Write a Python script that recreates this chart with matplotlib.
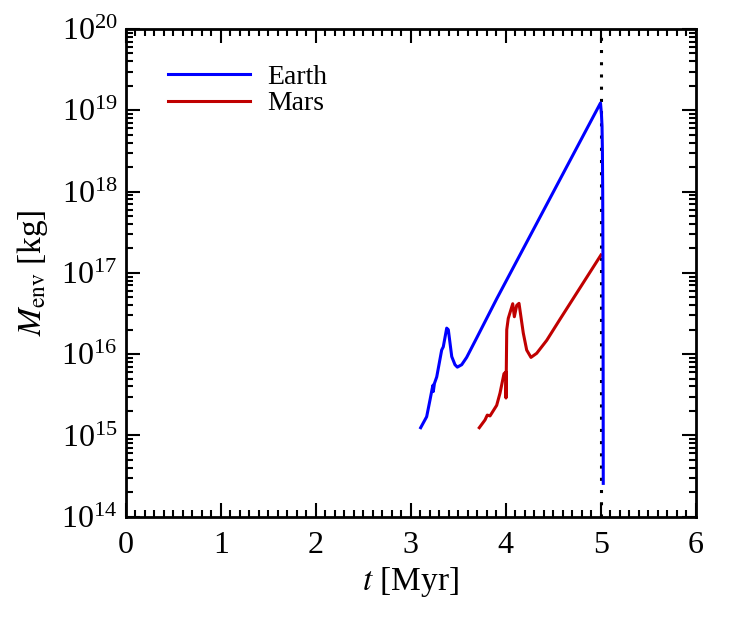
import matplotlib
matplotlib.use("Agg")
import matplotlib.pyplot as plt
import numpy as np
from matplotlib.ticker import MultipleLocator, LogLocator, NullFormatter

plt.rcParams['font.family'] = ['Liberation Serif', 'DejaVu Serif']
plt.rcParams['mathtext.fontset'] = 'stix'
plt.rcParams['mathtext.default'] = 'regular'

# Earth envelope mass: time [Myr], log10 mass [kg]
earth_t = [3.105, 3.168, 3.203, 3.227, 3.236, 3.238, 3.250, 3.274, 3.326, 3.343,
           3.379, 3.396, 3.432, 3.466, 3.491, 3.537, 3.589, 3.695, 3.905, 4.998,
           5.008, 5.014, 5.018, 5.021, 5.024, 5.026, 5.027]
earth_logm = [15.095, 15.23, 15.435, 15.58, 15.62, 15.54, 15.64, 15.72, 16.05, 16.09,
              16.32, 16.30, 15.97, 15.87, 15.84, 15.87, 15.96, 16.20, 16.68, 19.09,
              18.95, 18.80, 18.50, 18.00, 17.00, 15.50, 14.41]

# Mars envelope mass
mars_t = [3.722, 3.782, 3.806, 3.835, 3.905, 3.940, 3.982, 4.003, 4.003, 4.011,
          4.027, 4.074, 4.091, 4.116, 4.140, 4.185, 4.221, 4.266, 4.326, 4.432,
          4.572, 5.003]
mars_logm = [15.095, 15.19, 15.25, 15.24, 15.37, 15.52, 15.76, 15.78, 15.46, 16.30,
             16.44, 16.62, 16.46, 16.60, 16.625, 16.26, 16.05, 15.96, 16.01, 16.17,
             16.43, 17.22]

t_disk = 5.0
xticks = [0, 1, 2, 3, 4, 5, 6]

fig = plt.figure(figsize=(7.47, 6.17), dpi=100)
ax = fig.add_axes([125.7/747, 1-516.7/617, (695.7-125.7)/747, (516.7-29)/617])

ax.plot(mars_t, 10**np.array(mars_logm), color='#c00000', lw=2.2, label='Mars', zorder=3)
ax.plot(earth_t, 10**np.array(earth_logm), color='#0000ff', lw=2.2, label='Earth', zorder=4)
ax.axvline(t_disk, color='black', lw=2.2, linestyle=(0, (1, 3)), zorder=2)

ax.set_yscale('log')
ax.set_xlim(0, 6)
ax.set_ylim(1e14, 1e20)
ax.set_xticks(xticks)
ax.xaxis.set_minor_locator(MultipleLocator(0.1))
ax.yaxis.set_major_locator(LogLocator(base=10, numticks=20))
ax.yaxis.set_minor_locator(LogLocator(base=10, subs=np.arange(2, 10), numticks=20))
ax.yaxis.set_minor_formatter(NullFormatter())

ax.tick_params(which='both', direction='in', top=True, right=True, width=1.5)
ax.tick_params(which='major', length=10, labelsize=23)
ax.tick_params(axis='x', which='major', pad=10)
ax.tick_params(axis='y', which='major', pad=6)
ax.tick_params(which='minor', length=5)
for s in ax.spines.values():
    s.set_linewidth(2)

ax.set_xlabel(r'$\mathit{t}$ [Myr]', fontsize=24, labelpad=4)
ax.set_ylabel(r'$\mathit{M}_{\rm env}$ [kg]', fontsize=24, labelpad=8)

h, l = ax.get_legend_handles_labels()
ax.legend([h[1], h[0]], [l[1], l[0]], frameon=False, loc='upper left',
          bbox_to_anchor=(0.075, 0.928), borderpad=0, borderaxespad=0,
          fontsize=20, handlelength=2.95, handletextpad=0.6, labelspacing=0.05)

fig.savefig('out.png', dpi=100)
